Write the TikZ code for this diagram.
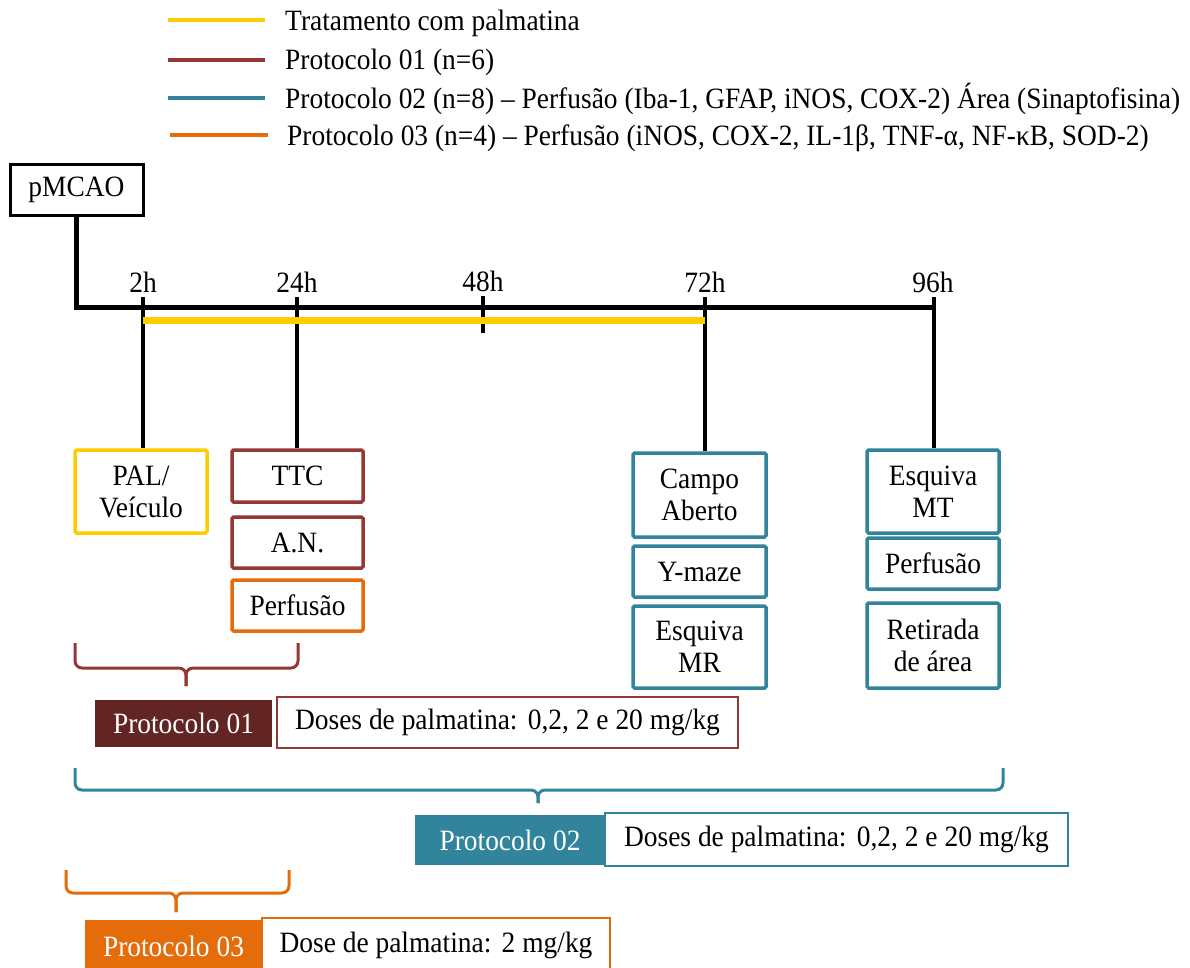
\documentclass[tikz,border=0pt]{standalone}
\usepackage{fontspec}
\setmainfont[FakeStretch=0.93]{Liberation Serif}
\definecolor{yel}{HTML}{FFCC00}
\definecolor{brn}{HTML}{953735}
\definecolor{dbrn}{HTML}{632523}
\definecolor{tealc}{HTML}{31849B}
\definecolor{org}{HTML}{E46C0A}
\begin{document}
\begin{tikzpicture}[x=1pt,y=-1pt,
  font=\fontsize{29.5}{32}\selectfont,
  box/.style={draw, line width=3.5pt, inner sep=0pt, align=center, rounded corners=1.5pt},
  tl/.style={line width=5pt, line join=miter},
  tk/.style={line width=3.5pt},
  leg/.style={line width=4.5pt},
  brc/.style={line width=3pt, rounded corners=7pt},
  pfill/.style={inner sep=0pt, text=white},
  dbox/.style={draw, line width=1.5pt, inner sep=0pt, fill=white}
]
\useasboundingbox (0,0) rectangle (1190,967);
\fill[white] (0,0) rectangle (1190,967);

% legend
\coordinate (la1) at (168,20);  \coordinate (lb1) at (265,20);
\coordinate (la2) at (168,60);  \coordinate (lb2) at (265,60);
\coordinate (la3) at (168,98);  \coordinate (lb3) at (265,98);
\coordinate (la4) at (170,135); \coordinate (lb4) at (268,135);
\draw[leg, yel] (la1) -- (lb1);
\draw[leg, brn] (la2) -- (lb2);
\draw[leg, tealc] (la3) -- (lb3);
\draw[leg, org] (la4) -- (lb4);
\node[anchor=base west, inner sep=0pt] (lt1) at (285,30.5) {Tratamento com palmatina};
\node[anchor=base west, inner sep=0pt] (lt2) at (285,69.5) {Protocolo 01 (n=6)};
\node[anchor=base west, inner sep=0pt] (lt3) at (285,108) {Protocolo 02 (n=8) – Perfusão (Iba-1, GFAP, iNOS, COX-2) Área (Sinaptofisina)};
\node[anchor=base west, inner sep=0pt] (lt4) at (287,145) {Protocolo 03 (n=4) – Perfusão (iNOS, COX-2, IL-1β, TNF-α, NF-κB, SOD-2)};

% pMCAO
\node[box, draw=black, line width=3pt, rounded corners=0pt, minimum width=133pt, minimum height=51pt] (pmcao) at (76.5,189.5) {pMCAO};

% timeline
\coordinate (t2) at (143,307);
\coordinate (t24) at (297,307);
\coordinate (t48) at (483,307);
\coordinate (t72) at (705,307);
\coordinate (t96) at (934,307);
\coordinate (t2top) at (143,297);
\coordinate (t24top) at (297,297);
\coordinate (t48top) at (483,296);
\coordinate (t48bot) at (483,333);
\coordinate (t72top) at (705,297);
\coordinate (t96top) at (934,297);
\draw[tl] (pmcao.south) |- (t96);

\node[anchor=base, inner sep=0pt] (h2) at (143,292) {2h};
\node[anchor=base, inner sep=0pt] (h24) at (297,292) {24h};
\node[anchor=base, inner sep=0pt] (h48) at (483,291) {48h};
\node[anchor=base, inner sep=0pt] (h72) at (705,292) {72h};
\node[anchor=base, inner sep=0pt] (h96) at (933,292) {96h};

% boxes
\node[box, draw=yel, minimum width=132pt, minimum height=83pt] (pal) at (141,491.5) {PAL/\\Veículo};
\node[box, draw=brn, minimum width=131pt, minimum height=52pt] (ttc) at (297.5,476) {TTC};
\node[box, draw=brn, minimum width=131pt, minimum height=51pt] (an) at (297.5,542.5) {A.N.};
\node[box, draw=org, minimum width=131pt, minimum height=51pt] (perf1) at (297.5,605.5) {Perfusão};
\node[box, draw=tealc, minimum width=133pt, minimum height=84pt] (campo) at (699.5,495) {Campo\\Aberto};
\node[box, draw=tealc, minimum width=133pt, minimum height=51pt] (ymaze) at (699.5,571.5) {Y-maze};
\node[box, draw=tealc, minimum width=133pt, minimum height=82pt] (esqmr) at (699.5,647) {Esquiva\\MR};
\node[box, draw=tealc, minimum width=132pt, minimum height=83pt] (esqmt) at (933,491.5) {Esquiva\\MT};
\node[box, draw=tealc, minimum width=132pt, minimum height=51pt] (perf2) at (933,563.5) {Perfusão};
\node[box, draw=tealc, minimum width=132pt, minimum height=85pt] (retir) at (933,645.5) {Retirada\\de área};

% ticks
\draw[tk] (t2top) -- (t2top |- pal.north);
\draw[tk] (t24top) -- (t24top |- ttc.north);
\draw[tk] (t48top) -- (t48bot);
\draw[tk] (t72top) -- (t72top |- campo.north);
\draw[tk] (t96top) -- (t96top |- esqmt.north);

% treatment bar
\coordinate (ya) at (143,320);
\coordinate (yb) at (705,320);
\draw[yel, line width=7pt] (ya) -- (yb);

% braces
\draw[brc, brn] (75,643) -- (75,668) -- (186,668) -- (186,686);
\draw[brc, brn] (298,643) -- (298,668) -- (186,668) -- (186,686);
\draw[brc, tealc] (75,768) -- (75,790) -- (538,790) -- (538,803);
\draw[brc, tealc] (1003,768) -- (1003,790) -- (538,790) -- (538,803);
\draw[brc, org] (66,870) -- (66,893) -- (176,893) -- (176,912);
\draw[brc, org] (289,870) -- (289,893) -- (176,893) -- (176,912);

% protocol labels
\node[dbox, draw=brn, minimum width=461pt, minimum height=51pt] (d1) at (507.5,722.5) {Doses de palmatina:\hspace{0.35em}0,2, 2 e 20 mg/kg};
\node[pfill, fill=dbrn, minimum width=177pt, minimum height=47pt] (p1) at (183.5,723.5) {Protocolo 01};
\node[dbox, draw=tealc, minimum width=463pt, minimum height=53pt] (d2) at (836.5,839.5) {Doses de palmatina:\hspace{0.35em}0,2, 2 e 20 mg/kg};
\node[pfill, fill=tealc, minimum width=190pt, minimum height=50pt] (p2) at (510,840) {Protocolo 02};
\node[dbox, draw=org, minimum width=348pt, minimum height=54pt] (d3) at (436,945) {Dose de palmatina:\hspace{0.35em}2 mg/kg};
\node[pfill, fill=org, minimum width=177pt, minimum height=52pt] (p3) at (173.5,946) {Protocolo 03};
\end{tikzpicture}
\end{document}
